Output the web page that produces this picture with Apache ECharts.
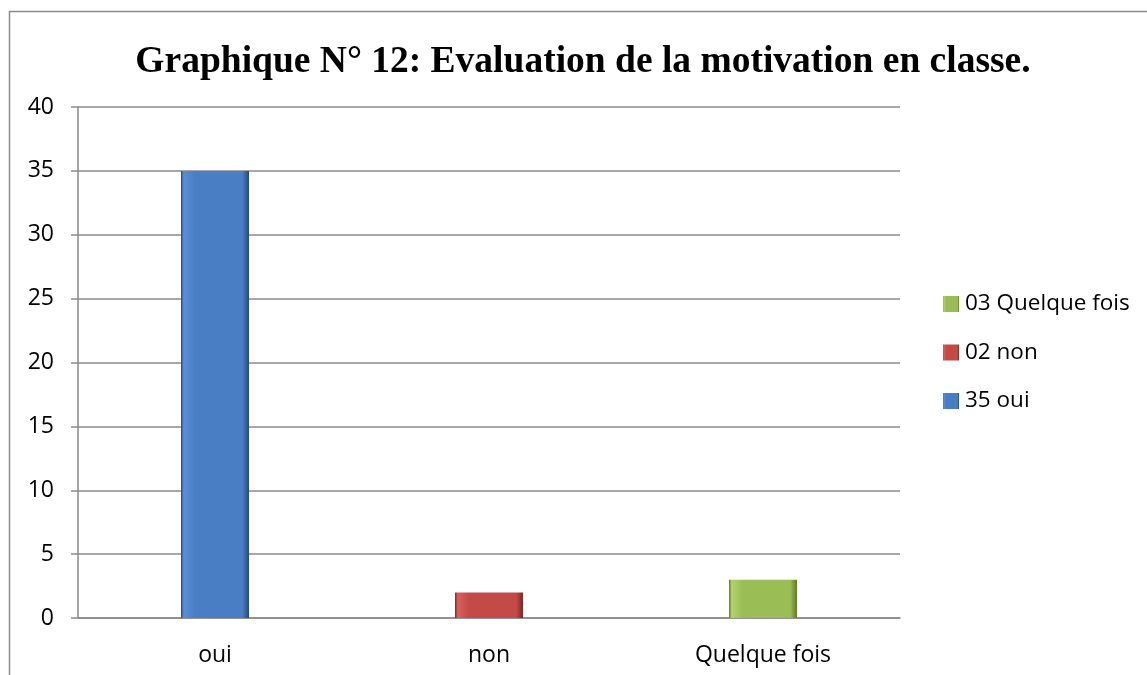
<!DOCTYPE html>
<html>
<head>
<meta charset="utf-8">
<script src="https://cdn.jsdelivr.net/npm/echarts@6/dist/echarts.min.js"></script>
<style>
  html, body { margin: 0; padding: 0; background: #fff; }
  #chart { width: 1147px; height: 675px; }
</style>
</head>
<body>
<div id="chart"></div>
<script>
  // data
  const categories = ['oui', 'non', 'Quelque fois'];
  const seriesNames = ['35 oui', '02 non', '03 Quelque fois'];
  const ouiValues = [35, null, null];
  const nonValues = [null, 2, null];
  const quelqueValues = [null, null, 3];
  const yTicks = [0, 5, 10, 15, 20, 25, 30, 35, 40];

  const sansFont = '"Open Sans", "Noto Sans", sans-serif';

  // bevelled look: light left edge, darker right edge
  function bevel(light, base, dark) {
    return new echarts.graphic.LinearGradient(0, 0, 1, 0, [
      { offset: 0, color: dark },
      { offset: 0.04, color: light },
      { offset: 0.2, color: base },
      { offset: 0.9, color: base },
      { offset: 1, color: dark }
    ]);
  }

  const colors = [
    bevel('#5a8fd6', '#4a7ec4', '#244a7c'),
    bevel('#d8625e', '#c44a47', '#7c2523'),
    bevel('#b3d36c', '#9bbd55', '#5d7a26')
  ];
  const legendColors = ['#4a7ec4', '#c44a47', '#9bbd55'];

  const chart = echarts.init(document.getElementById('chart'));

  const mkSeries = (name, data, idx) => ({
    name: name,
    type: 'bar',
    stack: 'all',
    data: data,
    barWidth: 68,
    itemStyle: { color: colors[idx] },
    emphasis: { disabled: true }
  });

  chart.setOption({
    animation: false,
    color: legendColors,
    title: {
      text: 'Graphique N° 12: Evaluation de la motivation en classe.',
      left: 578,
      top: 38,
      textAlign: 'center',
      textStyle: {
        fontFamily: '"Liberation Serif", "DejaVu Serif", serif',
        fontWeight: 'bold',
        fontSize: 37.5,
        color: '#000'
      }
    },
    graphic: [{
      type: 'rect',
      shape: { x: 9.5, y: 11.5, width: 1300, height: 800 },
      style: { fill: 'none', stroke: '#8a8a8a', lineWidth: 1.5 },
      silent: true
    }],
    legend: {
      orient: 'vertical',
      left: 943,
      top: 292,
      padding: 0,
      itemWidth: 16,
      itemHeight: 16,
      itemGap: 24.5,
      icon: 'rect',
      data: seriesNames.slice().reverse().map((n) => ({ name: n })),
      textStyle: {
        fontFamily: sansFont,
        fontSize: 22.5,
        lineHeight: 24,
        color: '#000',
        padding: [0, 0, 0, 1]
      }
    },
    grid: {
      left: 78,
      right: 247,
      top: 107,
      bottom: 57
    },
    xAxis: {
      type: 'category',
      data: categories,
      axisLine: { lineStyle: { color: '#8a8a8a', width: 1.5 } },
      axisTick: { show: false },
      axisLabel: {
        margin: 26,
        fontFamily: sansFont,
        fontSize: 23,
        color: '#000'
      }
    },
    yAxis: {
      type: 'value',
      min: yTicks[0],
      max: yTicks[yTicks.length - 1],
      interval: 5,
      axisLine: { show: true, lineStyle: { color: '#8a8a8a', width: 1.5 } },
      axisTick: { show: true, length: 7, lineStyle: { color: '#8a8a8a', width: 1.5 } },
      splitLine: { lineStyle: { color: '#8a8a8a', width: 1.5 } },
      axisLabel: {
        margin: 24,
        fontFamily: sansFont,
        fontSize: 23,
        color: '#000'
      }
    },
    series: [
      mkSeries(seriesNames[0], ouiValues, 0),
      mkSeries(seriesNames[1], nonValues, 1),
      mkSeries(seriesNames[2], quelqueValues, 2)
    ]
  });
</script>
</body>
</html>
